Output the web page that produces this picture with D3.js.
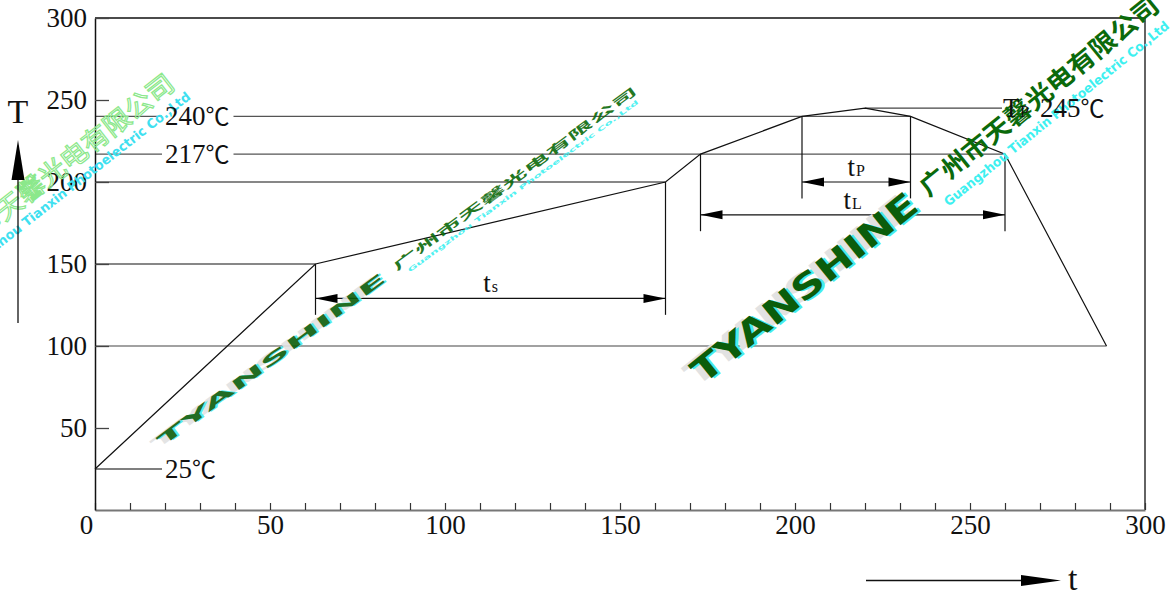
<!DOCTYPE html>
<html><head><meta charset="utf-8">
<script src="https://cdn.jsdelivr.net/npm/d3@7"></script>
<style>body{margin:0;background:#fff}svg{display:block}</style>
</head><body>
<svg id="c" width="1174" height="591"></svg>
<script>
// ---------- data ----------
const profileTime = [0, 63, 163, 173, 202, 220, 233, 260, 289];
const profileTemp = [25, 150, 200, 217, 240, 245, 240, 217, 100];
const xTickLabels = [0, 50, 100, 150, 200, 250, 300];
const xMinorTicks = [0,10,20,30,40,50,60,70,80,90,100,110,120,130,140,150,160,170,180,190,200,210,220,230,240,250,260,270,280,290,300];
const yTickLabels = [50, 100, 150, 200, 250, 300];
const plainLevels = [ {temp: 200, to: 163}, {temp: 150, to: 63}, {temp: 100, to: 289} ];
const labeledLevels = [ {temp: 240, label: "240", to: 233}, {temp: 217, label: "217", to: 260}, {temp: 25, label: "25", to: null} ];
const peakLevel = {temp: 245, from: 220, label: "245", sub: "P"};
const spans = [
  {sub: "s", from: 63,  to: 163, fromTemp: 150, toTemp: 200, arrowTemp: 129, endTemp: 119},
  {sub: "P", from: 202, to: 233, fromTemp: 240, toTemp: 240, arrowTemp: 200, endTemp: 190},
  {sub: "L", from: 173, to: 260, fromTemp: 217, toTemp: 217, arrowTemp: 180, endTemp: 170}
];
const wmBrand = "TYANSHINE";
const wmCn = "广州市天馨光电有限公司";
const wmEn = "Guangzhou Tianxin Photoelectric Co.,Ltd";

// ---------- setup ----------
const svg = d3.select("#c");
const serif = "'Liberation Serif','DejaVu Serif',serif";
const x = d3.scaleLinear().domain([0, 300]).range([95, 1145]);
const y = d3.scaleLinear().domain([0, 300]).range([510, 18]);
const profile = profileTime.map((t, i) => [t, profileTemp[i]]);

const gLines = svg.append("g");
const gWm = svg.append("g");
const gFront = svg.append("g");

// frame (top + right)
gLines.append("path").attr("d", `M${x(0)},${y(300)}H${x(300)}V${y(0)}`)
  .attr("fill", "none").attr("stroke", "#111").attr("stroke-width", 1.3);

// plain reference levels
plainLevels.forEach(l => {
  gLines.append("line").attr("x1", x(0)).attr("x2", x(l.to)).attr("y1", y(l.temp)).attr("y2", y(l.temp))
    .attr("stroke", l.temp === 100 ? "#444" : "#111").attr("stroke-width", 1.2);
});

// labeled levels
labeledLevels.forEach(l => {
  const ty = y(l.temp);
  const t = gFront.append("text").attr("x", 165).attr("y", ty + 9)
    .attr("font-family", serif).attr("font-size", 27).attr("fill", "#111");
  t.append("tspan").text(l.label);
  t.append("tspan").attr("font-family", "'Noto Sans CJK SC'").attr("font-size", 24).text("℃");
  const w = t.node().getComputedTextLength();
  gLines.append("line").attr("x1", x(0)).attr("x2", 162).attr("y1", ty).attr("y2", ty)
    .attr("stroke", "#555").attr("stroke-width", 1.4);
  if (l.to !== null) {
    gLines.append("line").attr("x1", 165 + w + 4).attr("x2", x(l.to)).attr("y1", ty).attr("y2", ty)
      .attr("stroke", "#555").attr("stroke-width", 1.4);
  }
});

// peak level with Tp label
{
  const ty = y(peakLevel.temp);
  gLines.append("line").attr("x1", x(peakLevel.from)).attr("x2", 1002).attr("y1", ty).attr("y2", ty)
    .attr("stroke", "#444").attr("stroke-width", 1.2);
  gFront.append("text").attr("x", 1003).attr("y", ty + 9).attr("font-family", serif)
    .attr("font-size", 27).attr("fill", "#111").text("T");
  gFront.append("text").attr("x", 1020).attr("y", ty + 9).attr("font-family", serif)
    .attr("font-size", 16).attr("fill", "#111").text(peakLevel.sub);
  const t = gFront.append("text").attr("x", 1040).attr("y", ty + 9).attr("font-family", serif)
    .attr("font-size", 27).attr("fill", "#111");
  t.append("tspan").text(peakLevel.label);
  t.append("tspan").attr("font-family", "'Noto Sans CJK SC'").attr("font-size", 24).text("℃");
}

// profile
gLines.append("path").datum(profile)
  .attr("d", d3.line().x(d => x(d[0])).y(d => y(d[1])))
  .attr("fill", "none").attr("stroke", "#111").attr("stroke-width", 1.2);

// dimension spans
function arrowHead(g, tipX, tipY, dir, len, hw) {
  g.append("path").attr("d", `M${tipX},${tipY}L${tipX + dir * len},${tipY - hw}L${tipX + dir * len},${tipY + hw}Z`)
    .attr("fill", "#000");
}
spans.forEach(s => {
  const ya = y(s.arrowTemp), ye = y(s.endTemp);
  gLines.append("line").attr("x1", x(s.from)).attr("x2", x(s.from)).attr("y1", y(s.fromTemp)).attr("y2", ye)
    .attr("stroke", "#111").attr("stroke-width", 1.2);
  gLines.append("line").attr("x1", x(s.to)).attr("x2", x(s.to)).attr("y1", y(s.toTemp)).attr("y2", ye)
    .attr("stroke", "#111").attr("stroke-width", 1.2);
  gLines.append("line").attr("x1", x(s.from)).attr("x2", x(s.to)).attr("y1", ya).attr("y2", ya)
    .attr("stroke", "#111").attr("stroke-width", 1.2);
  arrowHead(gLines, x(s.from), ya, 1, 22, 4.5);
  arrowHead(gLines, x(s.to), ya, -1, 22, 4.5);
  const t = gFront.append("text").attr("x", (x(s.from) + x(s.to)) / 2).attr("y", ya - 6)
    .attr("text-anchor", "middle").attr("font-family", serif).attr("fill", "#111");
  t.append("tspan").attr("font-size", 27).text("t");
  t.append("tspan").attr("font-size", 16).attr("dx", 1).text(s.sub);
});

// x axis
const xAxis = d3.axisBottom(x).tickValues(xMinorTicks).tickSizeInner(-7).tickSizeOuter(0)
  .tickFormat(d => xTickLabels.includes(d) ? d : "");
const gx = gLines.append("g").attr("transform", `translate(0,${y(0)})`).call(xAxis);
gx.select(".domain").attr("stroke", "#777").attr("stroke-width", 2.2);
gx.selectAll(".tick line").attr("stroke", "#333").attr("stroke-width", 1.2);
gx.selectAll(".tick text").attr("y", 24).attr("dy", null).attr("font-family", serif)
  .attr("font-size", 27).attr("fill", "#111")
  .attr("dx", d => d === 0 ? -9 : 0);

// y axis
const yAxis = d3.axisLeft(y).tickValues(yTickLabels).tickSizeInner(-14).tickSizeOuter(0).tickPadding(8);
const gy = gLines.append("g").attr("transform", `translate(${x(0)},0)`).call(yAxis);
gy.select(".domain").attr("stroke", "#111").attr("stroke-width", 1.5);
gy.selectAll(".tick line").attr("stroke", "#444").attr("stroke-width", 1.3);
gy.selectAll(".tick text").attr("font-family", serif).attr("font-size", 27).attr("fill", "#111")
  .attr("dy", "0.33em");

// axis arrows
gFront.append("line").attr("x1", 18).attr("x2", 18).attr("y1", 323).attr("y2", 170).attr("stroke", "#111").attr("stroke-width", 1.3);
gFront.append("path").attr("d", "M18,140L11.5,180L24.5,180Z").attr("fill", "#000");
gFront.append("text").attr("x", 18).attr("y", 123).attr("text-anchor", "middle").attr("font-family", serif)
  .attr("font-size", 34).attr("fill", "#111").text("T");
gFront.append("line").attr("x1", 866).attr("x2", 1030).attr("y1", 580.5).attr("y2", 580.5).attr("stroke", "#111").attr("stroke-width", 1.3);
gFront.append("path").attr("d", "M1061,580.5L1021,575L1021,586Z").attr("fill", "#000");
gFront.append("text").attr("x", 1068).attr("y", 590).attr("font-family", serif)
  .attr("font-size", 34).attr("fill", "#111").text("t");

// ---------- watermarks ----------
function watermark(x0, y0, angle, sy, opacity) {
  const g = gWm.append("g").attr("transform", `translate(${x0},${y0}) rotate(${angle}) scale(1,${sy})`)
    .attr("opacity", opacity);
  const brand = (dx, dy, fill) => g.append("text").attr("x", dx).attr("y", dy)
    .attr("font-family", "'DejaVu Sans'").attr("font-weight", "bold").attr("font-size", 34)
    .attr("textLength", 280).attr("lengthAdjust", "spacingAndGlyphs").attr("fill", fill).text(wmBrand);
  brand(-7, -2, "#e2e2e2");
  brand(2, 2, "#44eeee");
  brand(0, 0, "#0b5d0b");
  g.append("text").attr("x", 293).attr("y", -4).attr("font-family", "'Noto Sans CJK SC'").attr("font-weight", "bold")
    .attr("font-size", 25).attr("textLength", 300).attr("lengthAdjust", "spacingAndGlyphs")
    .attr("fill", "#0b6a0b").text(wmCn);
  g.append("text").attr("x", 303).attr("y", 16).attr("font-family", "'DejaVu Sans'").attr("font-weight", "bold")
    .attr("font-size", 13).attr("textLength", 285).attr("lengthAdjust", "spacingAndGlyphs")
    .attr("fill", "#3ef0f0").text(wmEn);
}
watermark(703, 385, -39, 1, 1);
watermark(162, 447, -36.5, 0.45, 0.9);

// top-left light watermark
{
  const g = gWm.append("g").attr("transform", "translate(-60,272) rotate(-38)");
  g.append("text").attr("x", 0).attr("y", 0).attr("font-family", "'Noto Sans CJK SC'")
    .attr("font-size", 26).attr("textLength", 300).attr("lengthAdjust", "spacingAndGlyphs")
    .attr("fill", "none").attr("stroke", "#8be88b").attr("stroke-width", 1.2).text(wmCn);
  g.append("text").attr("x", 10).attr("y", 18).attr("font-family", "'DejaVu Sans'").attr("font-weight", "bold")
    .attr("font-size", 13).attr("textLength", 295).attr("lengthAdjust", "spacingAndGlyphs")
    .attr("fill", "#3ee0f0").text(wmEn);
}
</script>
</body></html>
